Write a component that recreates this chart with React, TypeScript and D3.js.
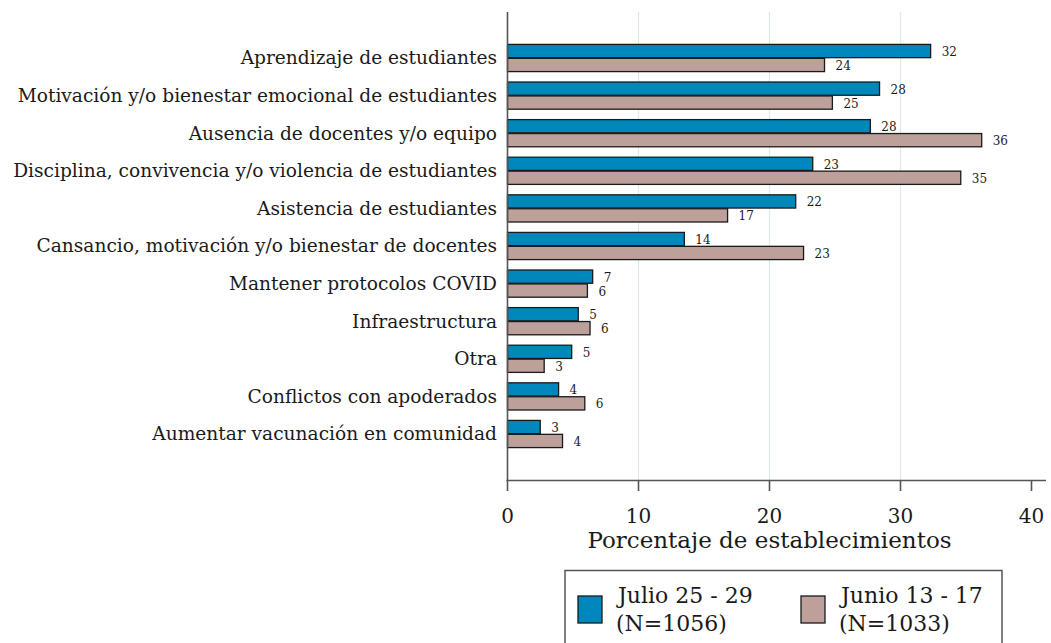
import React from "react";
import * as d3 from "d3";

const categories = [
  "Aprendizaje de estudiantes",
  "Motivación y/o bienestar emocional de estudiantes",
  "Ausencia de docentes y/o equipo",
  "Disciplina, convivencia y/o violencia de estudiantes",
  "Asistencia de estudiantes",
  "Cansancio, motivación y/o bienestar de docentes",
  "Mantener protocolos COVID",
  "Infraestructura",
  "Otra",
  "Conflictos con apoderados",
  "Aumentar vacunación en comunidad",
];
const julioValues = [32.3, 28.4, 27.7, 23.3, 22.0, 13.5, 6.5, 5.4, 4.9, 3.9, 2.5];
const junioValues = [24.2, 24.8, 36.2, 34.6, 16.8, 22.6, 6.1, 6.3, 2.8, 5.9, 4.2];
const seriesKeys = ["julio", "junio"];
const seriesLabels = [["Julio 25 - 29", "(N=1056)"], ["Junio 13 - 17", "(N=1033)"]];
const xTicks = [0, 10, 20, 30, 40];
const gridTicks = [10, 20, 30];

const colors: Record<string, string> = { julio: "#0088bd", junio: "#bca099" };
const FONT = "'DejaVu Serif', serif";
const TXT = "#1a1a1a";

export default function App() {
  const W = 1051, H = 643;
  const x = d3.scaleLinear().domain([0, 40]).range([507.5, 1031.5]);
  const y0 = d3.scaleBand<string>().domain(categories).range([12, 480]).paddingInner(0.277).paddingOuter(0.862);
  const y1 = d3.scaleBand<string>().domain(seriesKeys).range([0, y0.bandwidth()]).paddingInner(0.05);
  const values: Record<string, number[]> = { julio: julioValues, junio: junioValues };

  return (
    <svg width={W} height={H} style={{ position: "absolute", left: 0, top: 0, background: "#fff" }}>
      {gridTicks.map((t) => (
        <line key={t} x1={x(t)} x2={x(t)} y1={12} y2={480} stroke="#dde9ee" strokeWidth={1.2} />
      ))}
      {categories.map((c, i) => (
        <g key={c} transform={`translate(0,${y0(c)})`}>
          {seriesKeys.map((k) => {
            const v = values[k][i];
            const yy = y1(k)!;
            return (
              <g key={k}>
                <rect x={x(0)} y={yy} width={x(v) - x(0)} height={y1.bandwidth()} fill={colors[k]} stroke="#1a1a1a" strokeWidth={1.3} />
                <text x={x(v) + 11} y={yy + y1.bandwidth() / 2 + 1} dominantBaseline="central" fontFamily={FONT} fontSize={12} fill={TXT}>
                  {Math.round(v)}
                </text>
              </g>
            );
          })}
          <text x={497} y={y0.bandwidth() / 2} dominantBaseline="central" textAnchor="end" fontFamily={FONT} fontSize={18.6} fill={TXT}>
            {c}
          </text>
        </g>
      ))}
      <line x1={x(0)} x2={x(0)} y1={12} y2={481} stroke="#555" strokeWidth={1.6} />
      <line x1={x(0) - 1} x2={1046} y1={480.5} y2={480.5} stroke="#555" strokeWidth={1.6} />
      {xTicks.map((t) => (
        <g key={t}>
          <line x1={x(t)} x2={x(t)} y1={480} y2={491} stroke="#555" strokeWidth={1.6} />
          <text x={x(t)} y={523} textAnchor="middle" fontFamily={FONT} fontSize={20} fill={TXT}>
            {t}
          </text>
        </g>
      ))}
      <text x={(x(0) + x(40)) / 2} y={548} textAnchor="middle" fontFamily={FONT} fontSize={23} fill={TXT}>
        Porcentaje de establecimientos
      </text>
      <rect x={565} y={570.5} width={437} height={90} fill="#fff" stroke="#555" strokeWidth={1.5} />
      {seriesKeys.map((k, i) => {
        const bx = i === 0 ? 578 : 801;
        return (
          <g key={k}>
            <rect x={bx} y={596} width={24} height={27} fill={colors[k]} stroke="#1a1a1a" strokeWidth={1.3} />
            <text x={bx + 40} y={603} fontFamily={FONT} fontSize={22} fill={TXT}>
              {seriesLabels[i][0]}
            </text>
            <text x={bx + 38} y={631} fontFamily={FONT} fontSize={22} fill={TXT}>
              {seriesLabels[i][1]}
            </text>
          </g>
        );
      })}
    </svg>
  );
}
